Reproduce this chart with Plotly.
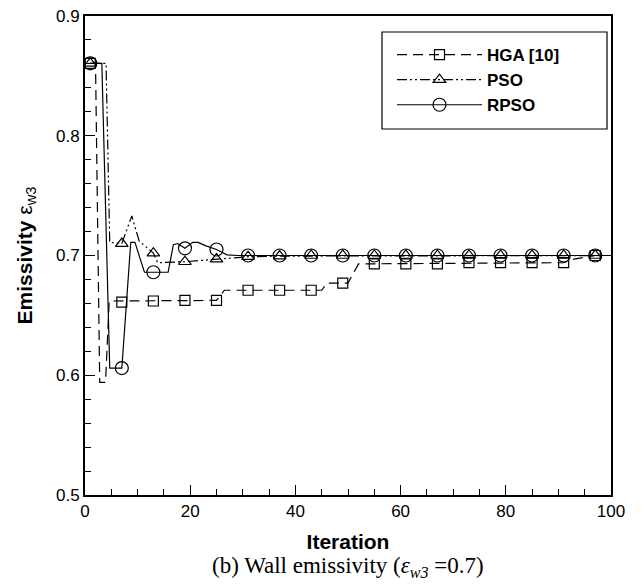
import plotly.graph_objects as go

# ---- data ----
hga_iter = [1, 2, 2.8, 3.9, 4.6, 25, 26.5, 45, 46, 50, 52, 91, 93, 97, 100]
hga_val = [0.8605, 0.8605, 0.594, 0.594, 0.662, 0.6625, 0.671, 0.671, 0.677, 0.677, 0.693, 0.694, 0.697, 0.700, 0.700]

pso_iter = [1, 4, 4.7, 7, 8.9, 10.3, 13, 13.8, 19, 25, 31, 37, 100]
pso_val = [0.8605, 0.8605, 0.711, 0.710, 0.733, 0.712, 0.702, 0.694, 0.6948, 0.697, 0.699, 0.6995, 0.700]

rpso_iter = [1, 3.2, 4.7, 7, 8.7, 9.5, 11.3, 15.8, 16.8, 17.6, 19, 20.5, 21.5, 23, 25, 27, 29, 100]
rpso_val = [0.8605, 0.8605, 0.606, 0.606, 0.711, 0.711, 0.686, 0.686, 0.709, 0.710, 0.706, 0.711, 0.711, 0.708, 0.705, 0.7005, 0.700, 0.700]

marker_iter = [1, 7, 13, 19, 25, 31, 37, 43, 49, 55, 61, 67, 73, 79, 85, 91, 97]
hga_mark = [0.8605, 0.661, 0.662, 0.6625, 0.6625, 0.671, 0.671, 0.671, 0.677, 0.693, 0.693, 0.693, 0.694, 0.694, 0.694, 0.694, 0.700]
pso_mark = [0.8605, 0.710, 0.702, 0.6948, 0.697, 0.699, 0.6995, 0.700, 0.700, 0.700, 0.700, 0.700, 0.700, 0.700, 0.700, 0.700, 0.700]
rpso_mark = [0.8605, 0.606, 0.686, 0.706, 0.705, 0.700, 0.700, 0.700, 0.700, 0.700, 0.700, 0.700, 0.700, 0.700, 0.700, 0.700, 0.700]

series_names = ["HGA [10]", "PSO", "RPSO"]
x_ticks = [0, 20, 40, 60, 80, 100]
y_ticks = [0.5, 0.6, 0.7, 0.8, 0.9]

# ---- styles ----
dashes = ["10px,6px", "10px,3px,2px,3px,2px,3px", "solid"]
symbols = ["square-open", "triangle-up-open", "circle-open"]
sizes = [10, 11, 13]
lines_x = [hga_iter, pso_iter, rpso_iter]
lines_y = [hga_val, pso_val, rpso_val]
marks_y = [hga_mark, pso_mark, rpso_mark]

fig = go.Figure()
for i in range(3):
    fig.add_trace(go.Scatter(x=lines_x[i], y=lines_y[i], mode="lines",
                             line=dict(color="black", width=1.2, dash=dashes[i]),
                             showlegend=False, hoverinfo="skip"))
    fig.add_trace(go.Scatter(x=marker_iter, y=marks_y[i], mode="markers",
                             marker=dict(symbol=symbols[i], size=sizes[i], color="black",
                                         line=dict(width=1.2, color="black")),
                             showlegend=False, hoverinfo="skip"))
for i in range(3):
    fig.add_trace(go.Scatter(x=[None], y=[None], mode="lines+markers", name="<b>" + series_names[i] + "</b>",
                             line=dict(color="black", width=1.2, dash=dashes[i]),
                             marker=dict(symbol=symbols[i], size=sizes[i], color="black",
                                         line=dict(width=1.2, color="black"))))

W, H = 643, 585
PL, PR, PT, PB = 85, 611, 16, 495  # plot box in window pixels
L, R, T, B = PL, W - PR, PT, H - PB
pw, ph = PR - PL, PB - PT

def px(xp):
    return (xp - PL) / pw

def py(yp):
    return (PB - yp) / ph

axis_font = dict(family="Liberation Sans, Arial, sans-serif", size=17, color="black")
fig.update_layout(
    width=W, height=H,
    margin=dict(l=L, r=R, t=T, b=B, autoexpand=False),
    paper_bgcolor="white", plot_bgcolor="white",
    font=dict(family="Liberation Sans, Arial, sans-serif", color="black"),
    xaxis=dict(range=[0, 100], tickvals=x_ticks, ticks="inside", ticklen=10, tickwidth=1.2,
               tickcolor="black", showline=True, linecolor="black", linewidth=2, mirror=True,
               showgrid=False, zeroline=False, tickfont=axis_font,
               minor=dict(dtick=5, ticks="inside", ticklen=6, tickwidth=1, tickcolor="black"),
               title=dict(text="<b>Iteration</b>", font=dict(family="Liberation Sans, Arial, sans-serif", size=21), standoff=14)),
    yaxis=dict(range=[0.5, 0.9], tickvals=y_ticks, tickformat=".1f", ticks="inside", ticklen=10, tickwidth=1.2,
               tickcolor="black", showline=True, linecolor="black", linewidth=2, mirror=True,
               showgrid=False, zeroline=False, tickfont=axis_font, ticklabeloverflow="allow",
               minor=dict(dtick=0.02, ticks="inside", ticklen=6, tickwidth=1, tickcolor="black"),
               title=dict(text="<b>Emissivity</b> ε<sub>w3</sub>", font=dict(family="Liberation Sans, Arial, sans-serif", size=21), standoff=18)),
    legend=dict(x=px(392), y=py(80), xanchor="left", yanchor="middle",
                bgcolor="rgba(0,0,0,0)", borderwidth=0, itemwidth=85,
                font=dict(family="Liberation Sans, Arial, sans-serif", size=17, color="black"),
                tracegroupgap=0),
    shapes=[dict(type="rect", xref="paper", yref="paper", x0=px(382), x1=px(607), y0=py(129), y1=py(32),
                 line=dict(color="black", width=1.2), fillcolor="rgba(0,0,0,0)")],
    annotations=[dict(text="(b) Wall emissivity (<i>ε<sub>w3</sub></i> =0.7)", xref="paper", yref="paper",
                      x=px(348), y=py(567), xanchor="center", yanchor="middle", showarrow=False,
                      font=dict(family="Liberation Serif, Times New Roman, serif", size=23, color="black"))],
)

fig.write_html("out.html", config={"displayModeBar": False},
               post_script="document.body.style.margin='0px';")
